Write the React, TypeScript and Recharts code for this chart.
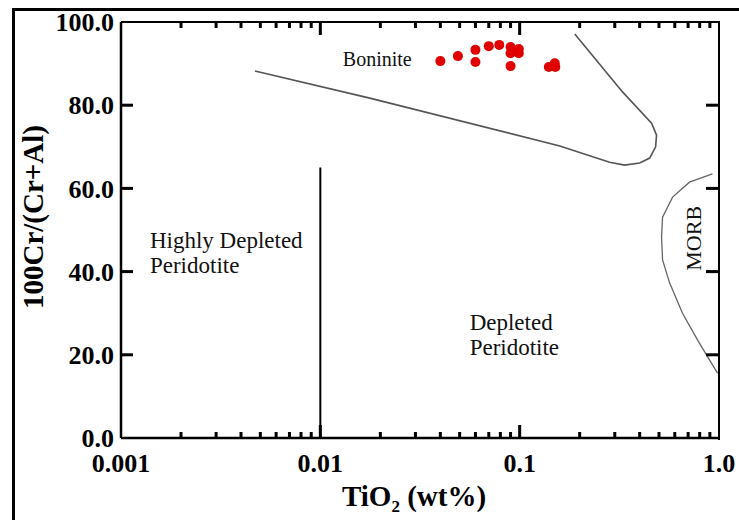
import { ComposedChart, XAxis, YAxis, Line, Scatter, ReferenceDot } from 'recharts';

// Tick values (log x-axis, linear y-axis)
const xMajorTicks = [0.001, 0.01, 0.1, 1];
const xMinorTicks = [
  0.002, 0.003, 0.004, 0.005, 0.006, 0.007, 0.008, 0.009,
  0.02, 0.03, 0.04, 0.05, 0.06, 0.07, 0.08, 0.09,
  0.2, 0.3, 0.4, 0.5, 0.6, 0.7, 0.8, 0.9,
];
const yTicks = [0, 20, 40, 60, 80, 100];

// Spinel samples: TiO2 (wt%) vs Cr#
const sampleTiO2 = [0.040, 0.049, 0.060, 0.060, 0.070, 0.079, 0.090, 0.090, 0.090, 0.099, 0.099, 0.140, 0.150, 0.151];
const sampleCrNo = [90.6, 91.8, 93.3, 90.4, 94.2, 94.5, 94.0, 92.5, 89.4, 93.5, 92.5, 89.2, 90.1, 89.2];

// Boninite field boundary
const boniniteFieldX = [0.0047, 0.0177, 0.159, 0.2825, 0.336, 0.400, 0.449, 0.481, 0.486, 0.459, 0.328, 0.189];
const boniniteFieldY = [88.2, 81.7, 70.2, 66.3, 65.6, 66.1, 67.3, 70.0, 72.8, 75.7, 83.2, 97.1];

// MORB field boundary
const morbX = [0.927, 0.711, 0.585, 0.521, 0.515, 0.521, 0.565, 0.656, 0.780, 0.896, 0.983];
const morbY = [63.5, 61.5, 57.9, 53.1, 48.3, 42.8, 37.3, 30.0, 23.6, 18.8, 15.6];

// Highly depleted / depleted peridotite divide
const divideX = [0.01, 0.01];
const divideY = [0, 65];

const samples = sampleTiO2.map((x, i) => ({ x, y: sampleCrNo[i] }));
const boniniteField = boniniteFieldX.map((x, i) => ({ x, y: boniniteFieldY[i] }));
const morbField = morbX.map((x, i) => ({ x, y: morbY[i] }));
const divide = divideX.map((x, i) => ({ x, y: divideY[i] }));

// tick-mark anchor points on the frame
const innerMajorX = xMajorTicks.filter((v) => v !== 0.001 && v !== 1);
const innerY = yTicks.filter((v) => v !== 0 && v !== 100);
const bottomMinor = xMinorTicks.map((x) => ({ x, y: 0 }));
const topMinor = xMinorTicks.map((x) => ({ x, y: 100 }));
const bottomMajor = innerMajorX.map((x) => ({ x, y: 0 }));
const topMajor = innerMajorX.map((x) => ({ x, y: 100 }));
const leftTicks = innerY.map((y) => ({ x: 0.001, y }));
const rightTicks = innerY.map((y) => ({ x: 1, y }));

const FONT = '"Liberation Serif", "Times New Roman", serif';
const AXIS_LINE = { stroke: '#000', strokeWidth: 2.5 };
const TICK_STYLE = { fill: '#000', fontSize: 26, fontWeight: 'bold', fontFamily: FONT };

const fmtX = (v: number) => (v === 1 ? '1.0' : String(v));
const fmtY = (v: number) => v.toFixed(1);

// inward tick marks drawn as small filled rects
const vTick = (len: number) => (p: any) => (
  <rect x={p.cx - 1.5} y={len < 0 ? p.cy + len : p.cy} width={3} height={Math.abs(len)} fill="#000" />
);
const hTick = (len: number) => (p: any) => (
  <rect x={len < 0 ? p.cx + len : p.cx} y={p.cy - 1.5} width={Math.abs(len)} height={3} fill="#000" />
);

const XTitle = (props: any) => {
  const { viewBox } = props;
  const cx = viewBox.x + viewBox.width / 2 - 6;
  return (
    <text x={cx} y={viewBox.y + 68} textAnchor="middle" fontFamily={FONT} fontWeight="bold" fontSize={29} fill="#000">
      <tspan>TiO</tspan>
      <tspan fontSize={17} dy={6}>2</tspan>
      <tspan dy={-6}> (wt%)</tspan>
    </text>
  );
};

const YTitle = (props: any) => {
  const { viewBox } = props;
  const cx = viewBox.x + 43;
  const cy = viewBox.y + viewBox.height / 2 - 13;
  return (
    <text
      x={cx}
      y={cy}
      transform={`rotate(-90, ${cx}, ${cy})`}
      textAnchor="middle"
      fontFamily={FONT}
      fontWeight="bold"
      fontSize={29}
      fill="#000"
    >
      100Cr/(Cr+Al)
    </text>
  );
};

const FieldLabel = ({ cx, cy, lines, size, rotate }: any) => (
  <text
    x={cx}
    y={cy}
    transform={rotate ? `rotate(-90, ${cx}, ${cy})` : undefined}
    textAnchor={rotate ? 'middle' : 'start'}
    fontFamily={FONT}
    fontSize={size}
    fill="#111"
  >
    {lines.map((line: string, i: number) => (
      <tspan key={line} x={cx} dy={i === 0 ? 0 : size + 2}>
        {line}
      </tspan>
    ))}
  </text>
);

export default function App() {
  return (
    <div style={{ position: 'fixed', left: 0, top: 0, width: 739, height: 520, overflow: 'hidden', background: '#fff' }}>
      {/* outer figure frame */}
      <div
        style={{
          position: 'absolute',
          left: 12,
          top: 8,
          width: 800,
          height: 600,
          borderLeft: '3px solid #000',
          borderTop: '3px solid #000',
        }}
      />
      {/* top and right edges of the plot box */}
      <div
        style={{
          position: 'absolute',
          left: 121,
          top: 21,
          width: 597,
          height: 417,
          borderTop: '2.5px solid #000',
          borderRight: '2.5px solid #000',
        }}
      />
      <ComposedChart
        width={739}
        height={520}
        margin={{ top: 22, right: 20, bottom: 0, left: 0 }}
        style={{ position: 'absolute', left: 0, top: 0 }}
      >
        <XAxis
          dataKey="x"
          type="number"
          scale="log"
          domain={[0.001, 1]}
          allowDataOverflow
          ticks={xMajorTicks}
          interval={0}
          tickFormatter={fmtX}
          tick={TICK_STYLE}
          tickLine={false}
          tickSize={0}
          tickMargin={16}
          axisLine={AXIS_LINE}
          height={82}
          label={<XTitle />}
        />
        <YAxis
          dataKey="y"
          type="number"
          domain={[0, 100]}
          allowDataOverflow
          ticks={yTicks}
          interval={0}
          tickFormatter={fmtY}
          tick={TICK_STYLE}
          tickLine={false}
          tickSize={0}
          tickMargin={7}
          axisLine={AXIS_LINE}
          width={121}
          label={<YTitle />}
        />

        <Line
          data={divide}
          dataKey="y"
          type="linear"
          stroke="#000"
          strokeWidth={2}
          dot={false}
          isAnimationActive={false}
        />
        <Line
          data={boniniteField}
          dataKey="y"
          type="linear"
          stroke="#555"
          strokeWidth={1.6}
          dot={false}
          isAnimationActive={false}
        />
        <Line
          data={morbField}
          dataKey="y"
          type="linear"
          stroke="#666"
          strokeWidth={1.3}
          dot={false}
          isAnimationActive={false}
        />

        {/* inward tick marks on all four sides */}
        <Scatter data={bottomMinor} isAnimationActive={false} shape={vTick(-6)} />
        <Scatter data={topMinor} isAnimationActive={false} shape={vTick(6)} />
        <Scatter data={bottomMajor} isAnimationActive={false} shape={vTick(-13)} />
        <Scatter data={topMajor} isAnimationActive={false} shape={vTick(13)} />
        <Scatter data={leftTicks} isAnimationActive={false} shape={hTick(12)} />
        <Scatter data={rightTicks} isAnimationActive={false} shape={hTick(-13)} />

        <Scatter
          data={samples}
          isAnimationActive={false}
          shape={(p: any) => <circle cx={p.cx} cy={p.cy} r={5} fill="#e10000" />}
        />

        <ReferenceDot x={0.01297} y={89.4} r={0} shape={(p: any) => <FieldLabel cx={p.cx} cy={p.cy} lines={['Boninite']} size={20} />} />
        <ReferenceDot x={0.001397} y={45.7} r={0} shape={(p: any) => <FieldLabel cx={p.cx} cy={p.cy} lines={['Highly Depleted', 'Peridotite']} size={23} />} />
        <ReferenceDot x={0.0561} y={26.0} r={0} shape={(p: any) => <FieldLabel cx={p.cx} cy={p.cy} lines={['Depleted', 'Peridotite']} size={23} />} />
        <ReferenceDot x={0.8166} y={48.0} r={0} shape={(p: any) => <FieldLabel cx={p.cx} cy={p.cy} lines={['MORB']} size={22} rotate />} />
      </ComposedChart>
    </div>
  );
}
